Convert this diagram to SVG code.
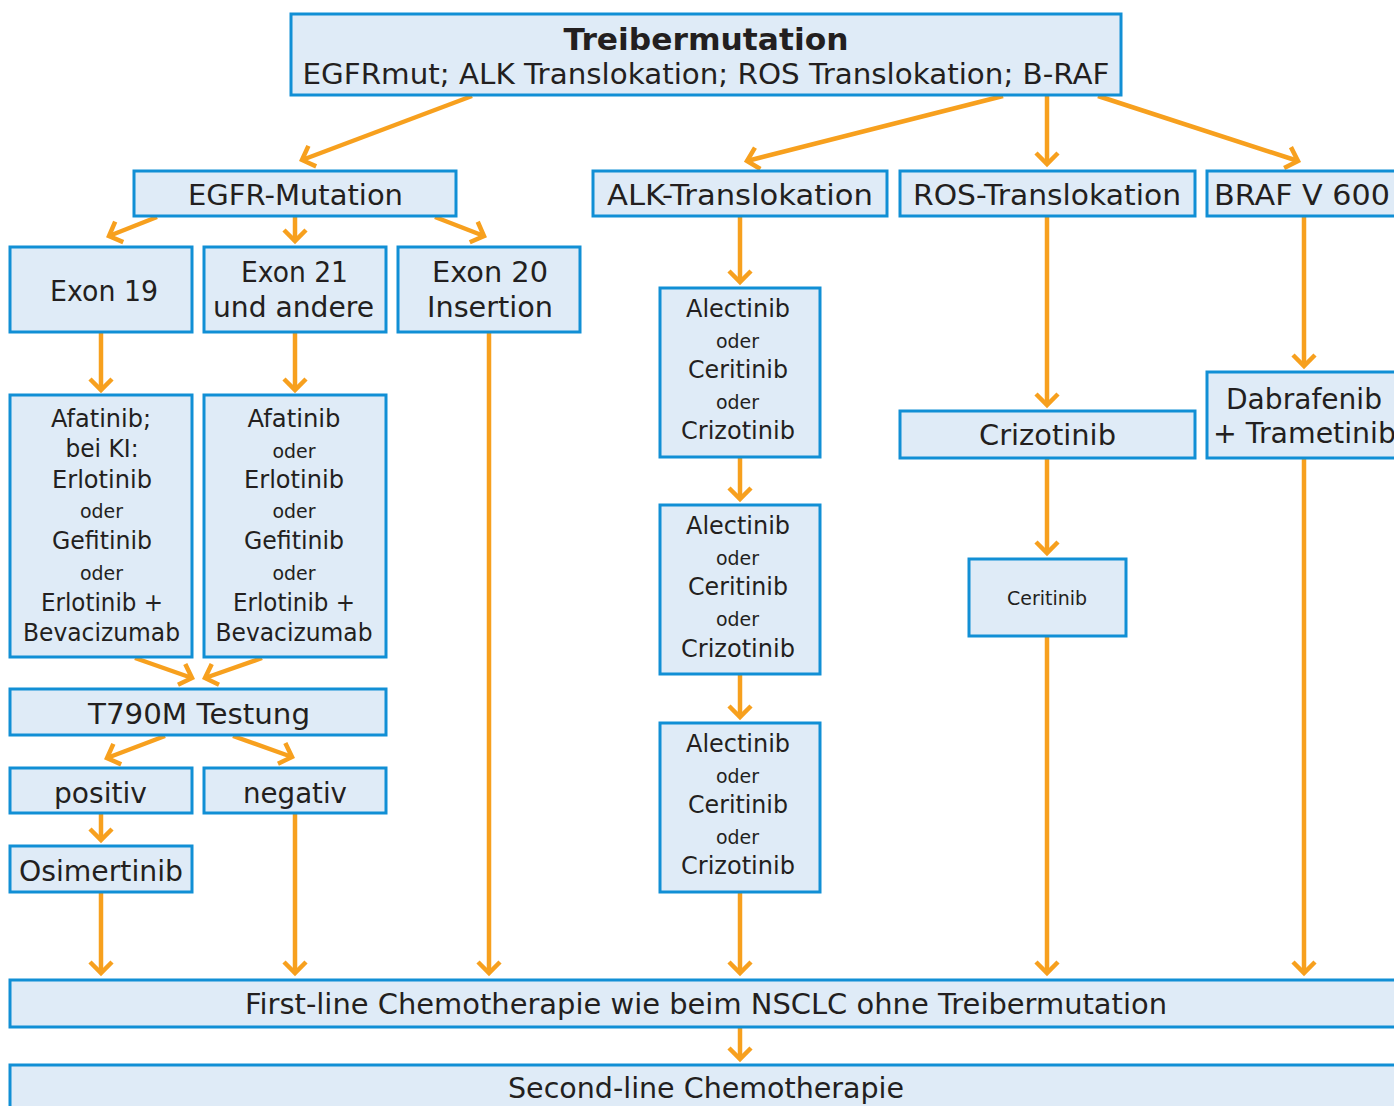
<svg xmlns="http://www.w3.org/2000/svg" width="1394" height="1106" viewBox="0 0 1394 1106">
<style>
.box{fill:#dfebf7;stroke:#118fd5;stroke-width:3}
text{font-family:"DejaVu Sans","Liberation Sans",sans-serif;fill:#231f20;text-anchor:middle}
.l{font-size:28px}
.m{font-size:25px}
.s{font-size:19px}
.b{font-size:31px;font-weight:bold}
.st{text-anchor:start}
.c line{stroke:#f7a01e;stroke-width:4.5;marker-end:url(#ah)}
</style>
<defs>
<marker id="ah" markerUnits="userSpaceOnUse" viewBox="-16 -16 22 32" markerWidth="22" markerHeight="32" refX="0" refY="0" orient="auto">
<path d="M-11,-11 L0,0 L-11,11" fill="none" stroke="#f7a01e" stroke-width="4.5" stroke-linejoin="miter"/>
</marker>
</defs>
<rect width="1394" height="1106" fill="#fff"/>

<g class="c" id="connectors">
<line x1="472" y1="96" x2="302" y2="160"/>
<line x1="1003" y1="96" x2="747" y2="161"/>
<line x1="1047" y1="96" x2="1047" y2="164"/>
<line x1="1098" y1="96" x2="1298" y2="161"/>
<line x1="157" y1="217" x2="109" y2="236"/>
<line x1="295" y1="217" x2="295" y2="241"/>
<line x1="435" y1="217" x2="484" y2="236"/>
<line x1="101" y1="333" x2="101" y2="390"/>
<line x1="295" y1="333" x2="295" y2="390"/>
<line x1="489" y1="333" x2="489" y2="973"/>
<line x1="135" y1="658" x2="192" y2="678"/>
<line x1="262" y1="658" x2="205" y2="678"/>
<line x1="165" y1="736" x2="107" y2="758"/>
<line x1="233" y1="736" x2="292" y2="757"/>
<line x1="101" y1="814" x2="101" y2="840"/>
<line x1="295" y1="814" x2="295" y2="973"/>
<line x1="101" y1="893" x2="101" y2="973"/>
<line x1="740" y1="217" x2="740" y2="282"/>
<line x1="740" y1="458" x2="740" y2="499"/>
<line x1="740" y1="675" x2="740" y2="717"/>
<line x1="740" y1="893" x2="740" y2="973"/>
<line x1="1047" y1="217" x2="1047" y2="405"/>
<line x1="1047" y1="459" x2="1047" y2="553"/>
<line x1="1047" y1="637" x2="1047" y2="973"/>
<line x1="1304" y1="217" x2="1304" y2="366"/>
<line x1="1304" y1="459" x2="1304" y2="973"/>
<line x1="740" y1="1028" x2="740" y2="1059"/>
</g>

<g id="top"><rect class="box" x="291" y="14" width="830" height="81"/>
<text class="b" x="706" y="50" textLength="285" lengthAdjust="spacingAndGlyphs">Treibermutation</text>
<text class="l" x="706" y="84" textLength="807" lengthAdjust="spacingAndGlyphs">EGFRmut; ALK Translokation; ROS Translokation; B-RAF</text></g>

<g id="egfr"><rect class="box" x="134" y="171" width="322" height="45"/>
<text class="l" x="295.5" y="205" textLength="215" lengthAdjust="spacingAndGlyphs">EGFR-Mutation</text></g>
<g id="alk"><rect class="box" x="593" y="171" width="294" height="45"/>
<text class="l" x="740" y="205" textLength="266" lengthAdjust="spacingAndGlyphs">ALK-Translokation</text></g>
<g id="ros"><rect class="box" x="900" y="171" width="295" height="45"/>
<text class="l" x="1047" y="205" textLength="268" lengthAdjust="spacingAndGlyphs">ROS-Translokation</text></g>
<g id="braf"><rect class="box" x="1207" y="171" width="200" height="45"/>
<text class="l st" x="1214" y="205" textLength="176" lengthAdjust="spacingAndGlyphs">BRAF V 600</text></g>

<g id="exon19"><rect class="box" x="10" y="247" width="182" height="85"/>
<text class="l" x="104" y="301" textLength="108" lengthAdjust="spacingAndGlyphs">Exon 19</text></g>
<g id="exon21"><rect class="box" x="204" y="247" width="182" height="85"/>
<text class="l" x="294.5" y="282" textLength="107" lengthAdjust="spacingAndGlyphs">Exon 21</text>
<text class="l" x="293.5" y="317" textLength="161" lengthAdjust="spacingAndGlyphs">und andere</text></g>
<g id="exon20"><rect class="box" x="398" y="247" width="182" height="85"/>
<text class="l" x="490" y="282" textLength="116" lengthAdjust="spacingAndGlyphs">Exon 20</text>
<text class="l" x="490" y="317" textLength="126" lengthAdjust="spacingAndGlyphs">Insertion</text></g>

<g id="therapy19"><rect class="box" x="10" y="395" width="182" height="262"/>
<text class="m" x="101" y="427" textLength="100" lengthAdjust="spacingAndGlyphs">Afatinib;</text>
<text class="m" x="102" y="457" textLength="73" lengthAdjust="spacingAndGlyphs">bei KI:</text>
<text class="m" x="102" y="488" textLength="100" lengthAdjust="spacingAndGlyphs">Erlotinib</text>
<text class="s" x="101.5" y="518" textLength="43" lengthAdjust="spacingAndGlyphs">oder</text>
<text class="m" x="102" y="549" textLength="100" lengthAdjust="spacingAndGlyphs">Gefitinib</text>
<text class="s" x="101.5" y="580" textLength="43" lengthAdjust="spacingAndGlyphs">oder</text>
<text class="m" x="102" y="611" textLength="122" lengthAdjust="spacingAndGlyphs">Erlotinib +</text>
<text class="m" x="101.5" y="641" textLength="157" lengthAdjust="spacingAndGlyphs">Bevacizumab</text></g>
<g id="therapy21"><rect class="box" x="204" y="395" width="182" height="262"/>
<text class="m" x="294" y="427" textLength="93" lengthAdjust="spacingAndGlyphs">Afatinib</text>
<text class="s" x="294" y="458" textLength="43" lengthAdjust="spacingAndGlyphs">oder</text>
<text class="m" x="294" y="488" textLength="100" lengthAdjust="spacingAndGlyphs">Erlotinib</text>
<text class="s" x="294" y="518" textLength="43" lengthAdjust="spacingAndGlyphs">oder</text>
<text class="m" x="294" y="549" textLength="100" lengthAdjust="spacingAndGlyphs">Gefitinib</text>
<text class="s" x="294" y="580" textLength="43" lengthAdjust="spacingAndGlyphs">oder</text>
<text class="m" x="294" y="611" textLength="122" lengthAdjust="spacingAndGlyphs">Erlotinib +</text>
<text class="m" x="294" y="641" textLength="157" lengthAdjust="spacingAndGlyphs">Bevacizumab</text></g>

<g id="t790m"><rect class="box" x="10" y="689" width="376" height="46"/>
<text class="l" x="199" y="724" textLength="222" lengthAdjust="spacingAndGlyphs">T790M Testung</text></g>
<g id="positiv"><rect class="box" x="10" y="768" width="182" height="45"/>
<text class="l" x="100.5" y="803" textLength="93" lengthAdjust="spacingAndGlyphs">positiv</text></g>
<g id="negativ"><rect class="box" x="204" y="768" width="182" height="45"/>
<text class="l" x="295" y="803" textLength="104" lengthAdjust="spacingAndGlyphs">negativ</text></g>
<g id="osimertinib"><rect class="box" x="10" y="846" width="182" height="46"/>
<text class="l" x="101" y="881" textLength="164" lengthAdjust="spacingAndGlyphs">Osimertinib</text></g>

<g id="alk1"><rect class="box" x="660" y="288" width="160" height="169"/>
<text class="m" x="738" y="317" textLength="104" lengthAdjust="spacingAndGlyphs">Alectinib</text>
<text class="s" x="737.5" y="348" textLength="43" lengthAdjust="spacingAndGlyphs">oder</text>
<text class="m" x="738" y="378" textLength="100" lengthAdjust="spacingAndGlyphs">Ceritinib</text>
<text class="s" x="737.5" y="409" textLength="43" lengthAdjust="spacingAndGlyphs">oder</text>
<text class="m" x="738" y="439" textLength="114" lengthAdjust="spacingAndGlyphs">Crizotinib</text></g>
<g id="alk2"><rect class="box" x="660" y="505" width="160" height="169"/>
<text class="m" x="738" y="534" textLength="104" lengthAdjust="spacingAndGlyphs">Alectinib</text>
<text class="s" x="737.5" y="565" textLength="43" lengthAdjust="spacingAndGlyphs">oder</text>
<text class="m" x="738" y="595" textLength="100" lengthAdjust="spacingAndGlyphs">Ceritinib</text>
<text class="s" x="737.5" y="626" textLength="43" lengthAdjust="spacingAndGlyphs">oder</text>
<text class="m" x="738" y="657" textLength="114" lengthAdjust="spacingAndGlyphs">Crizotinib</text></g>
<g id="alk3"><rect class="box" x="660" y="723" width="160" height="169"/>
<text class="m" x="738" y="752" textLength="104" lengthAdjust="spacingAndGlyphs">Alectinib</text>
<text class="s" x="737.5" y="783" textLength="43" lengthAdjust="spacingAndGlyphs">oder</text>
<text class="m" x="738" y="813" textLength="100" lengthAdjust="spacingAndGlyphs">Ceritinib</text>
<text class="s" x="737.5" y="844" textLength="43" lengthAdjust="spacingAndGlyphs">oder</text>
<text class="m" x="738" y="874" textLength="114" lengthAdjust="spacingAndGlyphs">Crizotinib</text></g>

<g id="ros-crizotinib"><rect class="box" x="900" y="411" width="295" height="47"/>
<text class="l" x="1047.5" y="445" textLength="137" lengthAdjust="spacingAndGlyphs">Crizotinib</text></g>
<g id="ros-ceritinib"><rect class="box" x="969" y="559" width="157" height="77"/>
<text class="s" x="1047" y="605" textLength="80" lengthAdjust="spacingAndGlyphs">Ceritinib</text></g>
<g id="dabrafenib"><rect class="box" x="1207" y="372" width="200" height="86"/>
<text class="l" x="1304" y="409" textLength="156" lengthAdjust="spacingAndGlyphs">Dabrafenib</text>
<text class="l st" x="1213" y="443" textLength="183" lengthAdjust="spacingAndGlyphs">+ Trametinib</text></g>

<g id="firstline"><rect class="box" x="10" y="980" width="1400" height="47"/>
<text class="l" x="706" y="1014" textLength="922" lengthAdjust="spacingAndGlyphs">First-line Chemotherapie wie beim NSCLC ohne Treibermutation</text></g>
<g id="secondline"><rect class="box" x="10" y="1065" width="1400" height="60"/>
<text class="l" x="706" y="1098" textLength="396" lengthAdjust="spacingAndGlyphs">Second-line Chemotherapie</text></g>
</svg>
